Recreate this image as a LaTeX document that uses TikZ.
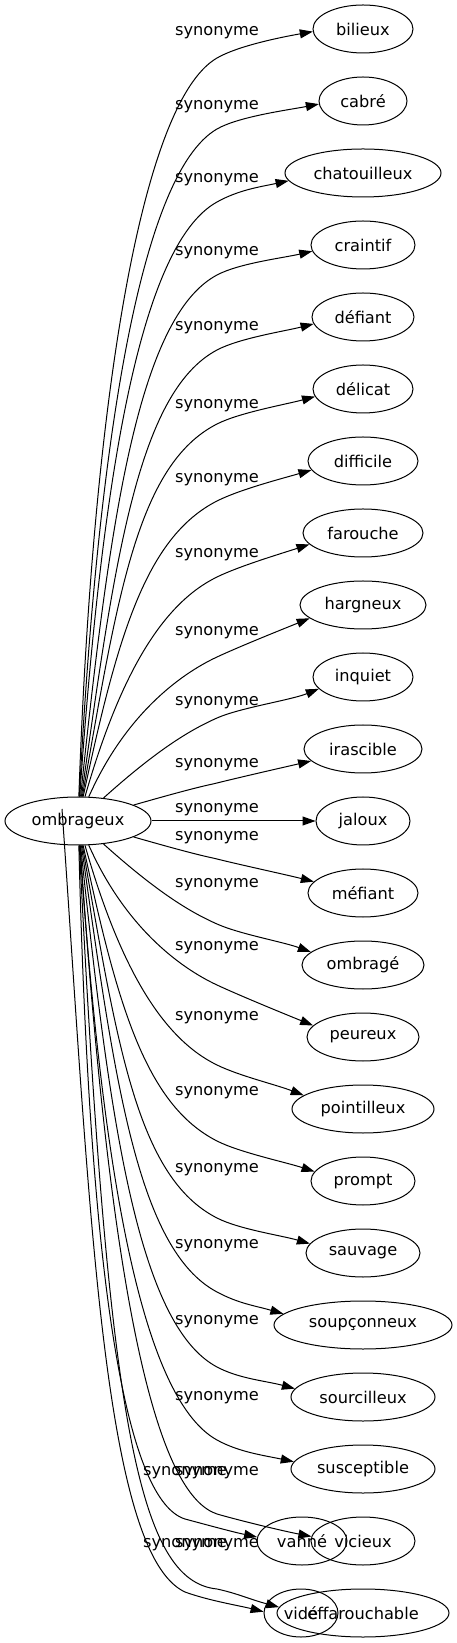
\documentclass[tikz,border=0pt]{standalone}
\usepackage{fontspec}
\setmainfont{DejaVu Sans}
\usetikzlibrary{shapes.geometric,arrows.meta,calc}

\begin{document}
\begin{tikzpicture}[x=1pt,y=1pt,
  word/.style={ellipse,draw,line width=1pt,inner sep=0pt,minimum height=48pt,
    font=\fontsize{16.2}{19}\selectfont},
  lbl/.style={inner sep=0pt,font=\fontsize{16.2}{19}\selectfont},
  rel/.style={line width=1pt,-{Triangle[length=13pt,width=9pt]}}]
  \useasboundingbox (-78,-822) rectangle (378,821);

  % the head word
  \node[word,minimum width=146pt] (ombrageux) at (0,0) {ombrageux};

  % synonyms, one row each
  \foreach \n/\w/\r/\rx in {bilieux/bilieux/0/50,cabre/cabré/1/44,
      chatouilleux/chatouilleux/2/78,craintif/craintif/3/52,defiant/défiant/4/51,
      delicat/délicat/5/50,difficile/difficile/6/55,farouche/farouche/7/60,
      hargneux/hargneux/8/63,inquiet/inquiet/9/50,irascible/irascible/10/59,
      jaloux/jaloux/11/47,mefiant/méfiant/12/55,ombrage/ombragé/13/61,
      peureux/peureux/14/56,pointilleux/pointilleux/15/71,prompt/prompt/16/52,
      sauvage/sauvage/17/57,soupconneux/soupçonneux/18/89,
      sourcilleux/sourcilleux/19/72,susceptible/susceptible/20/72,
      vicieux/vicieux/21/52,effarouchable/effarouchable/22/86}
    \node[word,minimum width=2*\rx] (\n) at (285,792-72*\r) {\w};
  % the two that sit on top of others
  \node[word,minimum width=90pt] (vanne) at (224,-720) {vanné};
  \node[word,minimum width=74pt] (vide) at (223,-792) {vidé};

  % edge labels
  \foreach \n/\y in {bilieux/788,cabre/714,chatouilleux/641,craintif/568,
      defiant/493,delicat/415,difficile/341,farouche/266,hargneux/188,
      inquiet/118,irascible/56,jaloux/11,mefiant/-17,ombrage/-64,peureux/-127,
      pointilleux/-197,prompt/-272,sauvage/-349,soupconneux/-425,
      sourcilleux/-501,susceptible/-577,vicieux/-652,effarouchable/-724}
    \node[lbl] (l-\n) at (139,\y) {synonyme};
  \node[lbl] (l-vanne) at (107,-652) {synonyme};
  \node[lbl] (l-vide) at (107,-724) {synonyme};

  % the fan: target/height at the label column/start angle/angle there/tip anchor/arrow angle
  \foreach \t/\vy/\th/\ph/\al/\ps in {bilieux/763/88/30/183/10,
      cabre/692/87/30/184/11,chatouilleux/619/86/29/186/12,
      craintif/546/84/28/187/13,defiant/471/82/28/188/14,
      delicat/397/80/27/189/15,difficile/320/78/27/190/16,
      farouche/244/74/26/192/18,hargneux/164/66/25/194/22,
      inquiet/103/42/24/195/22,irascible/38/16/14/193/13,
      mefiant/-38/344/346/167/-14,ombrage/-103/318/336/166/-20,
      peureux/-164/294/335/167/-22,pointilleux/-244/286/334/167/-21,
      prompt/-320/282/333/169/-18,sauvage/-397/280/333/170/-16,
      soupconneux/-471/278/332/172/-16,sourcilleux/-546/276/332/173/-15,
      susceptible/-619/274/331/174/-12}{
    \pgfmathsetmacro{\h}{abs(\vy)}
    \pgfmathsetmacro{\la}{0.5*\h/abs(sin(\th))}
    \pgfmathsetmacro{\lb}{min(90,0.25*\h)}
    \draw[rel] (ombrageux.\th) .. controls +(\th:\la) and +(\ph+180:\lb) .. (139,\vy)
      .. controls +(\ph:25) and +(\ps+180:30) .. (\t.\al);}
  \draw[rel] (ombrageux) -- (jaloux);

  % the bottom rows
  \draw[rel] (ombrageux.272) .. controls (12,-480) and (50,-680) .. (107,-698)
    .. controls +(-15:25) and +(168:25) .. (vanne.175);
  \draw[rel] ([shift={(-16,12)}]ombrageux.center) .. controls (12,-388) and (25,-733) .. (107,-771)
    .. controls +(-20:25) and +(166:25) .. (vide.178);
  \draw[rel] (ombrageux.275) .. controls (35,-520) and (85,-675) .. (139,-693)
    .. controls +(-16:25) and +(169:30) .. (vicieux.175);
  \draw[rel] (ombrageux.273) .. controls (30,-600) and (60,-760) .. (139,-768)
    .. controls +(-12:20) and +(165:30) .. (effarouchable.176);
\end{tikzpicture}
\end{document}
